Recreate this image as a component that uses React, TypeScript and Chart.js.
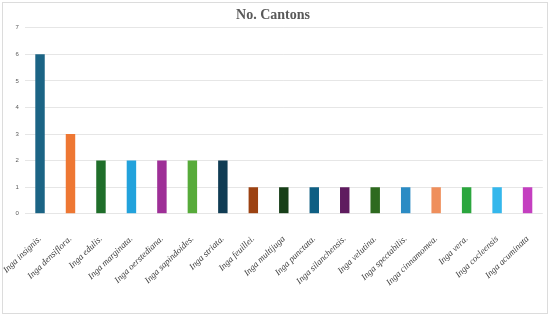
import React, { useEffect, useRef } from "react";
import { Chart, registerables } from "chart.js";

Chart.register(...registerables);

const categories = [
  "Inga insignis.",
  "Inga densiflora.",
  "Inga edulis.",
  "Inga marginata.",
  "Inga oerstediana.",
  "Inga sapindoides.",
  "Inga striata.",
  "Inga feuillei.",
  "Inga multijuga",
  "Inga punctata.",
  "Inga silanchensis.",
  "Inga velutina.",
  "Inga spectabilis.",
  "Inga cinnamomea.",
  "Inga vera.",
  "Inga cocleensis",
  "Inga acuminata",
];

const cantons = [6, 3, 2, 2, 2, 2, 2, 1, 1, 1, 1, 1, 1, 1, 1, 1, 1];

const barColors = [
  "#1b6485",
  "#ee7733",
  "#1f6e2a",
  "#22a2dc",
  "#9e2f97",
  "#57ab3a",
  "#103c54",
  "#9c4212",
  "#173f18",
  "#0f5f83",
  "#5f1c5f",
  "#2e6a1f",
  "#2b8bc4",
  "#ef8f5c",
  "#2ba63e",
  "#34b7ec",
  "#c43fc0",
];

const chartTitle = "No. Cantons";

export default function App() {
  const ref = useRef<HTMLCanvasElement | null>(null);

  useEffect(() => {
    if (!ref.current) return;
    const chart = new Chart(ref.current, {
      type: "bar",
      data: {
        labels: categories,
        datasets: [
          {
            label: chartTitle,
            data: cantons,
            backgroundColor: barColors,
            borderWidth: 0,
            barPercentage: 0.31,
            categoryPercentage: 1,
          },
        ],
      },
      options: {
        animation: false,
        responsive: true,
        maintainAspectRatio: false,
        layout: { padding: { left: 0, right: 4, top: 0, bottom: 13 } },
        plugins: {
          legend: { display: false },
          tooltip: { enabled: false },
          title: {
            display: true,
            text: chartTitle,
            color: "#595959",
            font: { family: "'Liberation Serif', 'Times New Roman', serif", size: 14, weight: "bold" },
            padding: { top: 4, bottom: 4 },
          },
        },
        scales: {
          x: {
            grid: { display: false },
            border: { display: false },
            afterFit: (scale: any) => {
              scale.paddingLeft = Math.max(0, (scale.paddingLeft || 0) - 11);
            },
            ticks: {
              autoSkip: false,
              maxRotation: 44,
              minRotation: 44,
              color: "#404040",
              padding: 12,
              font: { family: "'Liberation Serif', 'Times New Roman', serif", size: 9, style: "italic" },
            },
          },
          y: {
            min: 0,
            max: 7,
            border: { display: false },
            grid: { color: "#e6e6e6", drawTicks: false, lineWidth: 1 },
            ticks: {
              stepSize: 1,
              color: "#595959",
              padding: 6,
              font: { family: "'Liberation Sans', Arial, sans-serif", size: 6 },
            },
          },
        },
      },
    });
    return () => chart.destroy();
  }, []);

  return (
    <div style={{ position: "absolute", left: 0, top: 0, width: 550, height: 315, background: "#fff" }}>
      <div
        style={{
          position: "absolute",
          left: 2,
          top: 2,
          width: 544,
          height: 310,
          border: "1px solid #dcdcdc",
        }}
      >
        <canvas ref={ref} />
      </div>
    </div>
  );
}
